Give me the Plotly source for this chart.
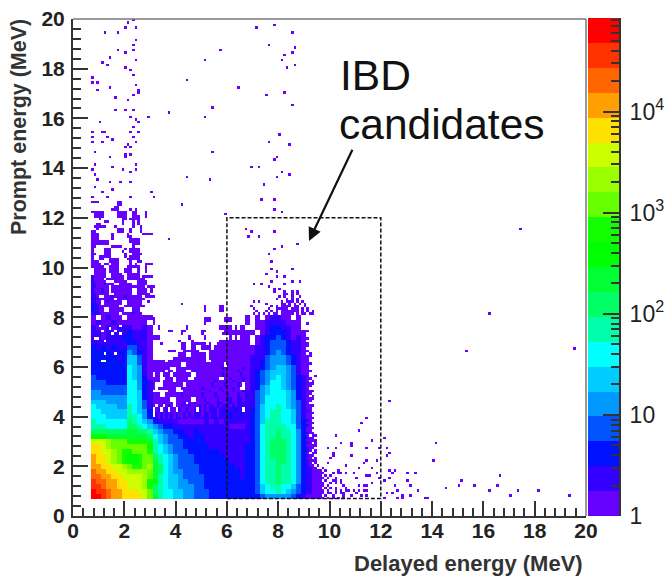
import numpy as np
import plotly.graph_objects as go

# Colour levels of the palette, bottom to top
PALETTE = ["#6600ff","#3300ff","#0011ff","#0055ff","#0099ff","#00ccff","#00ffff","#00ffaa","#00ff66","#00ff33",
           "#00ff00","#11ff00","#66ff00","#99ff00","#ccff00","#ffe000","#ffa000","#ff6600","#ff3300","#ff0000"]
Z_TOP_LOG10 = 4.925
TICK_LOG = [0, 1, 2, 3, 4]
TICK_TEXT = ["1", "10", "10<sup>2</sup>", "10<sup>3</sup>", "10<sup>4</sup>"]

# Dense part: cells 0.2 MeV wide, first column starts at 0.7 MeV, first row (bottom) at 0.7 MeV.
# '.' empty, 1-9, a-k = colour level 1..20
E = "." * 18
DENSE_ROWS = [
"kkjihhgggg"+"fda8776655"+"4443333333"+"3334555554"+"32111",
"kjjihhgggf"+"fd98776655"+"4443333333"+"3346778765"+"43211",
"jjihhggfff"+"ec98766555"+"4433333333"+"3346788776"+"43211",
"jiihhggfff"+"ecb8766554"+"4433333333"+"3347889887"+"53211",
"iihhggffff"+"eda8766544"+"4433333332"+"3347889887"+"53211",
"ihhggffeee"+"eda9765544"+"4333333332"+"3347889887"+"53211",
"hhggffedcc"+"dea9765444"+"4333333322"+"3347889887"+"5321.",
"hggfedcbbc"+"dda8765444"+"3333333222"+"3347889987"+"5321.",
"hggfedcbbc"+"dd98765444"+"3333332222"+"3347899987"+"5321.",
"ggffedccdd"+"dc87654443"+"3333322222"+"3347899987"+"5321.",
"ggfedddddd"+"db87654433"+"3332222222"+"3347899987"+"5321.",
"fffedddccc"+"ca86544433"+"3322222222"+"2347899987"+"5321.",
"bbbaaaaaaa"+"a976544332"+"3322222222"+"2347889887"+"5321.",
"9999999aa9"+"9865443322"+"3222222222"+"2347889887"+"5321.",
"8887777998"+"7654332222"+"2222222111"+"2347888877"+"4321.",
"8777777987"+"6532222111"+"1121212222"+"2346888776"+"4321.",
"7776666887"+"53"+E+"2346788776"+"4211.",
"7766666876"+"53"+E+"2346788776"+"4211.",
"7666655876"+"42"+E+"2246778765"+"4211.",
"6665555776"+"42"+E+"2245777765"+"4211.",
"5555555776"+"32"+E+"2245777765"+"3211.",
"5544444776"+"32"+E+"2245677765"+"3211.",
"4444444775"+"32"+E+"1235677654"+"3211.",
"4443333775"+"32"+E+"1234577654"+"3211.",
"4333333765"+"31"+E+"1234567654"+"3211.",
"3333333765"+"21"+E+"1234566654"+"2111.",
"3333333765"+"21"+E+"1223456654"+"2111.",
"3333333664"+"21"+E+"1223455543"+"2111.",
"3333323664"+"21"+E+"1222455543"+"2111.",
"3333233543"+"21"+E+"1122345432"+"211..",
"3232322442"+"21"+E+"1122344432"+"21.1.",
"2222222332"+"21"+E+"1.12344432"+"21...",
"2212223322"+"21"+E+"1.12334321"+"211..",
"2212222322"+"21"+E+"11.1233321"+"11...",
"2112122211"+"21"+E+"..11233221"+"1....",
"1211211111"+"1."+E+"1.11222211"+"1....",
"1.1211.111"+"11"+E+"1.1.12211."+"1....",
]

# Speckled parts, 0.1 MeV cells. Each row is (prompt MeV where it starts, cells from the block's first delayed bin);
# a row holds until the next one starts.
VALLEY_X0 = 3.1
VALLEY_ROWS = [
(3.9,"221212121221221222222222222222323222"),
(4.0,".21212121211212122212212212222322232"),
(4.2,".12.12.11.2112112.21212221222222322"),
(4.4,"1.11.121.1121121112121221212221212222"),
(4.5,"11112111.1112.1121111211122112221222"),
(4.6,"1111111..111111..1112111121112211221"),
(4.8,"111..11111121111111211112111121112112"),
(5.0,"......111...111121111121111211121112"),
(5.1,"1.1111111..11111111211111121111211"),
(5.2,"1...11111111.1111111111211112111121"),
(5.4,"111.1111.111111111111111211111121112"),
(5.5,"111..111.11111..1111111111..11211112"),
(5.6,".11.111.1111111..1111111111211111121"),
(5.8,"11111.11.1111..121111111111111111211"),
(5.9,"1111111..111111111111111111211111112"),
(6.0,"11111111111..111111111111111.1111111"),
(6.2,"11111.111111111111111..1111111111111"),
(6.3,"........1111111111111.11111111111111"),
(6.4,"..........111..111111.11111111111111"),
(6.6,"......111...111111....11111111111111"),
(6.7,"...........11..11..1111.111111111111"),
(6.9,"...1.......11..111111.1..11111111111"),
(7.0,"..........1....1..........1111111111"),
(7.1,"111...........1.....1.........1.1.11"),
(7.3,"...........1.......1.......111111111"),
(7.4,"......11...11......11.......11111111"),
(7.5,"..1..........1............11111.1.11"),
(7.7,"1...................1"),
(7.8,"1...................111.....111"),
(8.0,"."),
(8.2,"....................1.....11"),
(8.5,"...........1"),
(8.6,"."),
]
LEFT_X0 = 0.7
LEFT_ROWS = [
(8.1,"23221111111.11112111"),(8.2,"32211..111111...111"),(8.4,"32211111111..11111111"),
(8.5,"3221.1111111..111111"),(8.6,"2211.1211111..111111..1"),(8.7,"322111121.11112111111"),
(8.8,"221..111211112111111.1111"),(8.9,"2211111..1111111..11111"),(9.0,"2111211.11111111..1111.1"),
(9.2,"2211111.1111111111111.111"),(9.3,"221112111..11111..1111"),(9.4,"211111...11111....1111"),
(9.5,"21111.1111111.1111111"),(9.6,"211111..11111.11111.1111"),(9.7,".11111..1111..11111"),
(9.8,".11111.1111..111..1..1"),(10.0,"11111..1111...11111..1"),(10.1,"1111.11.111....1.1...111"),
(10.2,"111....1111....1..11"),(10.3,"1..11..1111...11111"),(10.4,"1..11111.....1.1111"),
(10.5,"11...111.....1..1111"),(10.6,"1....111....1..1111"),(10.7,"1....111.....1.1111"),
(10.8,"11......1111....1"),(10.9,"1111111.........111"),(11.0,"1111111........1111"),
(11.1,"111.....1......1111"),(11.2,"111.....1.....11"),(11.3,"111.....1.....1.....1111"),
(11.4,"11........111..1...1"),(11.5,"..1.......111..1...1"),(11.6,".11111...1......1..1"),
(11.7,"..11........1...1.1"),(11.8,".....11.....1...1.1"),(11.9,"...1........11.1111"),
(12.0,".1111.....1111..111..1"),(12.1,".1111.....1111..11...1"),(12.3,".........11"),
(12.5,"..........11"),(12.6,"111.......11"),(12.7,"."),
]
PEAK_TOP_X0 = 6.9
PEAK_TOP_ROWS = [
(8.1,".1.1.1.1.11.11111.1.11.11."),(8.2,"..1...1.1.1.1111111.1.1.1."),
(8.3,".1.....1..11111.111.1.1..."),(8.4,"1.......1.1.1111.11..1...."),
(8.5,"......1.....11.1.1.1.1...."),(8.6,".1.1........1.111.1.1....."),
(8.7,"..........1...1.1.1......."),(8.8,"...........1.1..1..1......"),
(8.9,".............11.1.1......."),(9.0,".........1...1..1.1......."),(9.1,"."),
]
TAIL_X0 = 9.7
TAIL_ROWS = [
(0.7,"1.1.1.1.1."),(0.8,".1..1...1."),(0.9,"1.11.1.1.."),(1.0,"1.1..1.1.1"),(1.1,".1.1.1...1"),
(1.2,"1.1.....1."),(1.3,"1..1.1.1.."),(1.4,".1..11.1.."),(1.5,"1.1..1...."),(1.6,".1.1......"),
(1.7,"1...1.1..."),(1.8,".1....1..."),(1.9,"1........."),(2.0,"."),
]
EDGE_X0 = 9.1
EDGE_ROWS = [
(2.0,"211.1"),(2.1,"21.1"),(2.2,"2111."),(2.3,"11.1."),(2.4,"211"),(2.5,"1.11"),(2.6,"21.1"),(2.7,"211"),
(2.8,"1111"),(2.9,"21.1"),(3.0,"1111"),(3.1,"211"),(3.2,"1.11"),(3.3,"211"),(3.4,"11"),(3.5,"111"),(3.6,"21."),
(3.7,"111"),(3.8,"21"),(3.9,"111"),(4.0,"11"),(4.1,"111"),(4.2,"21"),(4.3,"11"),(4.4,"111."),(4.5,"1"),(4.6,"11."),
(4.7,"111"),(4.8,"1.1"),(4.9,"11"),(5.0,"111"),(5.1,"1"),(5.2,"11"),(5.3,"111"),(5.4,"1.1"),(5.5,"11"),(5.6,"1..1"),
(5.7,"1"),(5.8,"11"),(5.9,"1"),(6.0,"1."),(6.1,"11"),(6.2,"1"),(6.4,"11"),(6.5,".1"),(6.6,"1"),(6.7,"."),(6.8,"1"),
(7.0,"."),(7.1,"1"),(7.2,"."),(7.4,"1"),(7.5,"."),(7.7,"1"),(7.8,"."),(8.1,"."),
]
# Small empty bins inside the blue block, (delayed MeV, prompt MeV)
HOLES = [(1.12,7.48),(1.44,7.55),(1.64,7.48),(0.92,7.15),(1.25,7.08),(1.57,7.35),(1.83,7.68),(1.05,7.68),(1.64,6.6),
         (1.25,6.6),(1.18,6.2),(1.25,6.2),(1.81,7.35),(0.86,7.15)]

# Isolated single-count bins (delayed MeV, prompt MeV)
SPARSE_POINTS = [
(2.13,19.89),(2.35,19.96),(1.25,19.46),(1.77,19.46),(2.05,19.66),(2.46,19.66),(2.46,19.18),(2.35,18.98),(1.77,18.78),
(2.05,18.68),(2.35,18.78),(1.44,18.48),(2.46,18.37),(1.12,18.28),(1.35,18.15),(2.05,18.05),(2.25,17.95),(2.35,17.74),
(0.79,17.68),(0.75,17.48),(0.95,17.48),(2.46,17.38),(1.44,17.27),(0.95,17.17),(2.55,17.17),(2.55,17.07),(1.64,16.87),
(2.13,16.78),(2.35,16.98),(1.64,16.36),(2.03,16.36),(2.35,16.36),(3.72,16.27),(2.25,16.07),(2.46,15.96),(2.94,16.0),
(2.55,15.8),(1.03,15.89),(2.35,15.64),(0.79,15.46),(1.12,15.46),(1.25,15.46),(2.25,15.46),(2.55,15.46),(0.79,15.26),
(2.35,15.26),(0.79,15.06),(1.12,15.06),(1.35,15.2),(1.53,15.1),(2.46,15.06),(2.13,14.95),(2.05,14.86),(2.25,14.86),
(0.83,14.66),(1.44,14.46),(2.05,14.55),(2.25,14.55),(2.03,14.46),(0.83,14.15),(1.53,14.05),(2.46,14.12),(0.75,13.95),
(1.94,13.95),(2.46,13.95),(2.25,13.85),(0.83,13.76),(0.95,13.56),(1.44,13.45),(1.83,13.45),(2.25,13.45),(0.83,13.25),
(1.53,13.16),(1.12,13.05),(3.03,13.05),(0.75,12.87),(1.35,12.87),(2.25,12.87),(3.13,12.87),(0.79,12.65),(0.95,12.65),
(1.83,12.65),(1.73,12.55),(1.64,12.45),(1.57,12.35),(0.75,12.27),(2.25,12.35),(2.46,12.35),
(7.15,19.66),(7.84,19.76),(8.55,19.46),(7.64,18.96),(8.64,18.86),(8.24,18.58),(8.55,18.68),(5.72,18.76),(5.13,18.37),
(8.15,18.37),(8.33,18.05),(8.64,18.15),(4.42,17.58),(6.43,17.27),(7.52,16.97),(8.24,17.07),(8.55,16.55),(5.42,16.46),
(3.78,16.27),(5.13,16.07),(8.02,15.37),(7.64,15.09),(8.46,14.95),(5.42,14.66),(7.93,14.46),(7.84,14.35),(6.94,14.06),
(7.25,14.06),(8.15,13.87),(8.46,13.77),(7.93,13.68),(4.42,13.68),(5.33,13.56),(7.43,13.36),(7.34,12.78),(7.84,12.78),
(7.84,12.36),(8.15,12.27),(4.24,12.57),(5.94,12.18),(3.78,11.18),(6.72,11.56),(6.94,11.47),(7.84,11.47),(6.84,11.28),
(7.25,11.28),(8.73,10.96),(8.15,10.86),(7.84,10.77),(7.64,10.58),(7.74,10.29),(7.74,9.96),(8.55,9.96),(7.93,9.86),
(7.52,9.78),(7.93,9.67),(8.24,9.67),(7.74,9.47),(8.55,9.47),(8.82,9.47),(7.03,9.36),(7.34,9.36),(8.24,9.36),(7.64,9.28),
(7.84,9.19),(8.02,9.19),
(17.43,11.55),(16.26,8.17),(15.36,6.68),(19.53,6.76),(12.33,4.67),(14.19,2.98),(14.04,2.25),(11.42,3.96),(11.24,3.76),
(11.12,3.45),(10.28,3.24),(10.44,2.97),(10.84,2.93),(11.65,3.06),(12.14,3.15),(15.0,1.25),(14.58,1.17),(15.6,1.29),
(16.65,1.69),(16.5,1.25),(16.2,1.0),(17.4,1.0),(18.1,1.09),(19.3,0.85),(17.0,0.85),(13.72,0.76),(13.84,0.76),(13.1,0.8),
(15.17,1.45),(12.83,0.8),(13.04,1.75),(13.34,1.75),(13.08,1.45),(13.14,1.29),(13.4,1.08),
(9.93,2.77),(10.24,2.77),(10.84,2.83),(11.42,2.77),(11.92,2.77),(12.23,2.77),(10.12,2.57),(10.12,2.46),(10.84,2.46),
(12.32,2.57),(12.23,2.46),(10.05,2.35),(11.42,2.26),(11.32,2.15),(11.84,2.26),(9.96,2.15),(10.63,2.08),(11.12,1.96),
(11.65,1.96),(10.44,1.75),(10.6,1.75),(10.9,1.75),(11.42,1.65),(11.58,1.65),(11.84,1.75),(12.32,1.85),(12.53,1.85),
(12.42,1.75),(11.97,1.58),(12.1,1.45),(12.36,1.58),(11.0,1.58),(11.65,1.38),(12.56,1.29),(11.12,1.29),(11.32,1.29),
(11.45,1.29),(10.73,1.08),(10.93,1.08),(11.12,1.08),(11.32,1.08),(11.45,1.08),(12.62,1.08),(10.54,0.96),(12.23,0.96),
(12.42,0.96),(12.1,0.78),(12.69,0.78),(12.88,0.78),(11.2,0.85),(11.45,0.85),(10.8,0.85),(11.0,0.95),
]

BIN = 0.1
START = 0.7
edges = np.round(np.arange(START, 20.0 + BIN / 2, BIN), 2)
centers = (edges[:-1] + edges[1:]) / 2
levels = np.zeros((len(centers), len(centers)))
decode = {c: i + 1 for i, c in enumerate("123456789abcdefghijk")}
for r, row in enumerate(DENSE_ROWS):
    for c, ch in enumerate(row):
        if ch in decode:
            levels[2 * r:2 * r + 2, 2 * c:2 * c + 2] = decode[ch]
for x0, rows, width in [(VALLEY_X0, VALLEY_ROWS, 36), (LEFT_X0, LEFT_ROWS, 26),
                        (PEAK_TOP_X0, PEAK_TOP_ROWS, 26), (TAIL_X0, TAIL_ROWS, 10), (EDGE_X0, EDGE_ROWS, 8)]:
    ci = round((x0 - START) / BIN)
    for k, (y0, row) in enumerate(rows[:-1]):
        r0, r1 = round((y0 - START) / BIN), round((rows[k + 1][0] - START) / BIN)
        cells = [decode.get(ch, 0) for ch in row.ljust(width, ".")[:width]]
        levels[r0:r1, ci:ci + width] = cells
for dx, dy in HOLES:
    levels[int((dy - START) / BIN), int((dx - START) / BIN)] = 0
for dx, dy in SPARSE_POINTS:
    levels[int((dy - START) / BIN), int((dx - START) / BIN)] = 1

step = Z_TOP_LOG10 / len(PALETTE)
z = np.where(levels > 0, (levels - 0.5) * step, np.nan)
scale = []
for i, col in enumerate(PALETTE):
    scale += [[i / len(PALETTE), col], [(i + 1) / len(PALETTE), col]]

fig = go.Figure()
fig.add_trace(go.Heatmap(x=centers, y=centers, z=z, zmin=0, zmax=Z_TOP_LOG10, colorscale=scale,
                         showscale=False, hoverongaps=False))
bar_edges = np.arange(len(PALETTE) + 1) * step
bar_z = [[(i + 0.5) * step] for i in range(len(PALETTE))]
fig.add_trace(go.Heatmap(x=[0, 1], y=bar_edges, z=bar_z, zmin=0, zmax=Z_TOP_LOG10, colorscale=scale,
                         showscale=False, xaxis="x2", yaxis="y2", hoverinfo="skip"))

W, H = 665, 576
AX = "#333333"
tickfont = dict(family="Liberation Sans", size=21, color="#222222", weight=700)
axis = dict(range=[0, 20], tickmode="array", tickvals=list(range(0, 21, 2)), ticks="inside", ticklen=15, tickwidth=2,
            tickcolor=AX, showline=True, linecolor=AX, linewidth=2, mirror=False, showgrid=False, zeroline=False,
            tickfont=tickfont, automargin=False,
            minor=dict(tickvals=[round(v, 1) for v in np.arange(0, 20.01, 0.4)], ticks="inside", ticklen=8,
                       tickwidth=2, tickcolor=AX, showgrid=False))
minor_log = [np.log10(k * 10 ** d) for d in range(5) for k in range(2, 10) if k * 10 ** d < 10 ** Z_TOP_LOG10]

fig.update_layout(
    width=W, height=H, margin=dict(l=0, r=0, t=0, b=0), paper_bgcolor="white", plot_bgcolor="white",
    font=dict(family="Liberation Sans"), showlegend=False,
    xaxis=dict(axis, domain=[73 / W, 586 / W], anchor="y", title=None, ticklabelstandoff=-5),
    yaxis=dict(axis, domain=[1 - 516 / H, 1 - 19 / H], anchor="x", title=None, ticklabelstandoff=2),
    xaxis2=dict(domain=[588 / W, 619 / W], range=[0, 1], visible=False, anchor="y2", automargin=False),
    yaxis2=dict(domain=[1 - 516 / H, 1 - 18 / H], range=[0, Z_TOP_LOG10], anchor="x2", side="right", ticks="inside",
                tickmode="array", tickvals=TICK_LOG, ticktext=TICK_TEXT, ticklen=16, tickwidth=2, tickcolor=AX,
                showline=True, linecolor=AX, linewidth=2, showgrid=False, zeroline=False, ticklabelstandoff=4,
                automargin=False, tickfont=dict(family="Liberation Sans", size=23, color="#222222"),
                minor=dict(tickvals=minor_log, ticks="inside", ticklen=8, tickwidth=2, tickcolor=AX, showgrid=False)),
    shapes=[
        dict(type="rect", xref="x", yref="y", x0=6, x1=12, y0=0.7, y1=12, line=dict(color="#111111", width=1.5, dash="4px,2px")),
        dict(type="line", xref="paper", yref="paper", x0=73 / W, x1=586 / W, y0=1 - 19 / H, y1=1 - 19 / H, line=dict(color="#777777", width=1.5)),
        dict(type="line", xref="paper", yref="paper", x0=586 / W, x1=586 / W, y0=1 - 516 / H, y1=1 - 19 / H, line=dict(color="#777777", width=1.5)),
    ],
    annotations=[
        dict(text="IBD", xref="paper", yref="paper", x=338 / W, y=1 - 75 / H, xanchor="left", yanchor="middle",
             showarrow=False, font=dict(family="Liberation Sans", size=42.5, color="#111111")),
        dict(text="candidates", xref="paper", yref="paper", x=337 / W, y=1 - 124 / H, xanchor="left", yanchor="middle",
             showarrow=False, font=dict(family="Liberation Sans", size=42.5, color="#111111")),
        dict(text="", x=9.2, y=11.07, ax=10.92, ay=14.8, xref="x", yref="y", axref="x", ayref="y", showarrow=True,
             arrowhead=2, arrowsize=1.2, arrowwidth=2.2, arrowcolor="#111111"),
        dict(text="<b>Delayed energy (MeV)</b>", xref="paper", yref="paper", x=585 / W, y=1 - 563 / H, xanchor="right",
             yanchor="middle", showarrow=False, font=dict(family="Liberation Sans", size=22, color="#333333")),
        dict(text="<b>Prompt energy (MeV)</b>", xref="paper", yref="paper", x=19 / W, y=1 - 17 / H, xanchor="center",
             yanchor="top", textangle=-90, showarrow=False, font=dict(family="Liberation Sans", size=21.5, color="#333333")),
    ],
)
fig.write_html("out.html", config={"displayModeBar": False},
               post_script="document.body.style.margin='0';document.body.style.overflow='hidden';")
